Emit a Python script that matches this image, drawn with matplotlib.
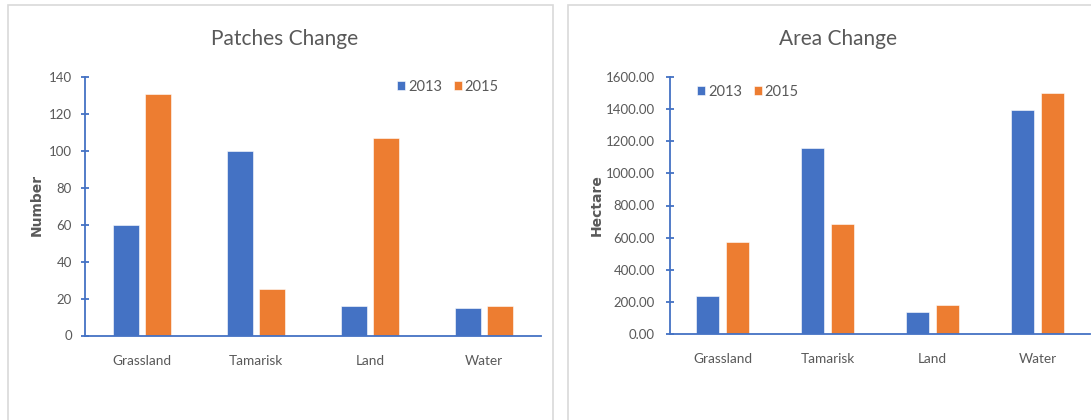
import matplotlib
matplotlib.use("Agg")
import matplotlib.pyplot as plt
from matplotlib.patches import Rectangle
import numpy as np

# data
categories = ["Grassland", "Tamarisk", "Land", "Water"]
years = ["2013", "2015"]
patches_2013 = [60, 100, 16, 15]
patches_2015 = [131, 25, 107, 16]
area_2013 = [235, 1155, 135, 1395]
area_2015 = [570, 685, 178, 1500]

blue = "#4472C4"
orange = "#ED7D31"
gray = "#595959"
font = ["Lato", "DejaVu Sans"]

W, H = 1091, 420
fig = plt.figure(figsize=(W / 100, H / 100), dpi=100)
fig.patch.set_facecolor("white")


def px_axes(x0, x1, y_top, y_bot):
    # axes placed by pixel box
    return fig.add_axes([x0 / W, (H - y_bot) / H, (x1 - x0) / W, (y_bot - y_top) / H])


# panel frames
for x0, x1 in [(8, 553), (568, 1200)]:
    fig.patches.append(Rectangle((x0 / W, -0.1), (x1 - x0) / W, 1.1 - 5 / H,
                                 transform=fig.transFigure, fill=False,
                                 edgecolor="#d9d9d9", linewidth=1.2))


def draw(ax, v13, v15, ymax, step, fmt, ylabel, title, title_x, leg_xy, ypad):
    x = np.arange(len(categories))
    bw = 0.225
    off = 0.1425
    ax.bar(x - off, v13, bw, color=blue, edgecolor="white", linewidth=0.4, label=years[0])
    ax.bar(x + off, v15, bw, color=orange, edgecolor="white", linewidth=0.4, label=years[1])
    ax.set_xlim(-0.5, len(categories) - 0.5)
    ax.set_ylim(0, ymax)
    ax.set_yticks(np.arange(0, ymax + step / 2, step))
    ax.set_yticklabels([fmt.format(v) for v in np.arange(0, ymax + step / 2, step)],
                       family=font, fontsize=9.5, color=gray)
    ax.set_xticks(x)
    ax.set_xticklabels(categories, family=font, fontsize=9.8, color=gray)
    for s in ["top", "right"]:
        ax.spines[s].set_visible(False)
    for s in ["left", "bottom"]:
        ax.spines[s].set_color(blue)
        ax.spines[s].set_linewidth(1.3)
    ax.tick_params(axis="y", direction="inout", length=6, width=1.3, color=blue, pad=ypad)
    ax.tick_params(axis="x", length=0, pad=14)
    ax.set_facecolor("none")
    fig.text(title_x / W, 1 - 45 / H, title, ha="center", va="baseline",
             family=font, fontsize=15, color=gray)
    fig.text(ylabel[1] / W, 1 - 205 / H, ylabel[0], rotation=90, ha="center", va="center",
             family="DejaVu Sans", fontweight="bold", fontsize=10, color=gray)
    ax.legend(loc="center", bbox_to_anchor=(leg_xy[0] / W, 1 - leg_xy[1] / H),
              bbox_transform=fig.transFigure, ncol=2, frameon=False,
              handlelength=0.55, handleheight=0.55, handletextpad=0.2,
              columnspacing=0.8, prop={"family": font, "size": 10.5},
              labelcolor=gray)


ax1 = px_axes(85, 541, 77, 335.5)
draw(ax1, patches_2013, patches_2015, 140, 20, "{:.0f}", ("Number", 37),
     "Patches Change", 285, (448, 87), 6.5)

ax2 = px_axes(670, 1090, 77, 334)
draw(ax2, area_2013, area_2015, 1600, 200, "{:.2f}", ("Hectare", 597),
     "Area Change", 838, (748, 92), 8.0)

fig.savefig("out.png", dpi=100, facecolor="white")
